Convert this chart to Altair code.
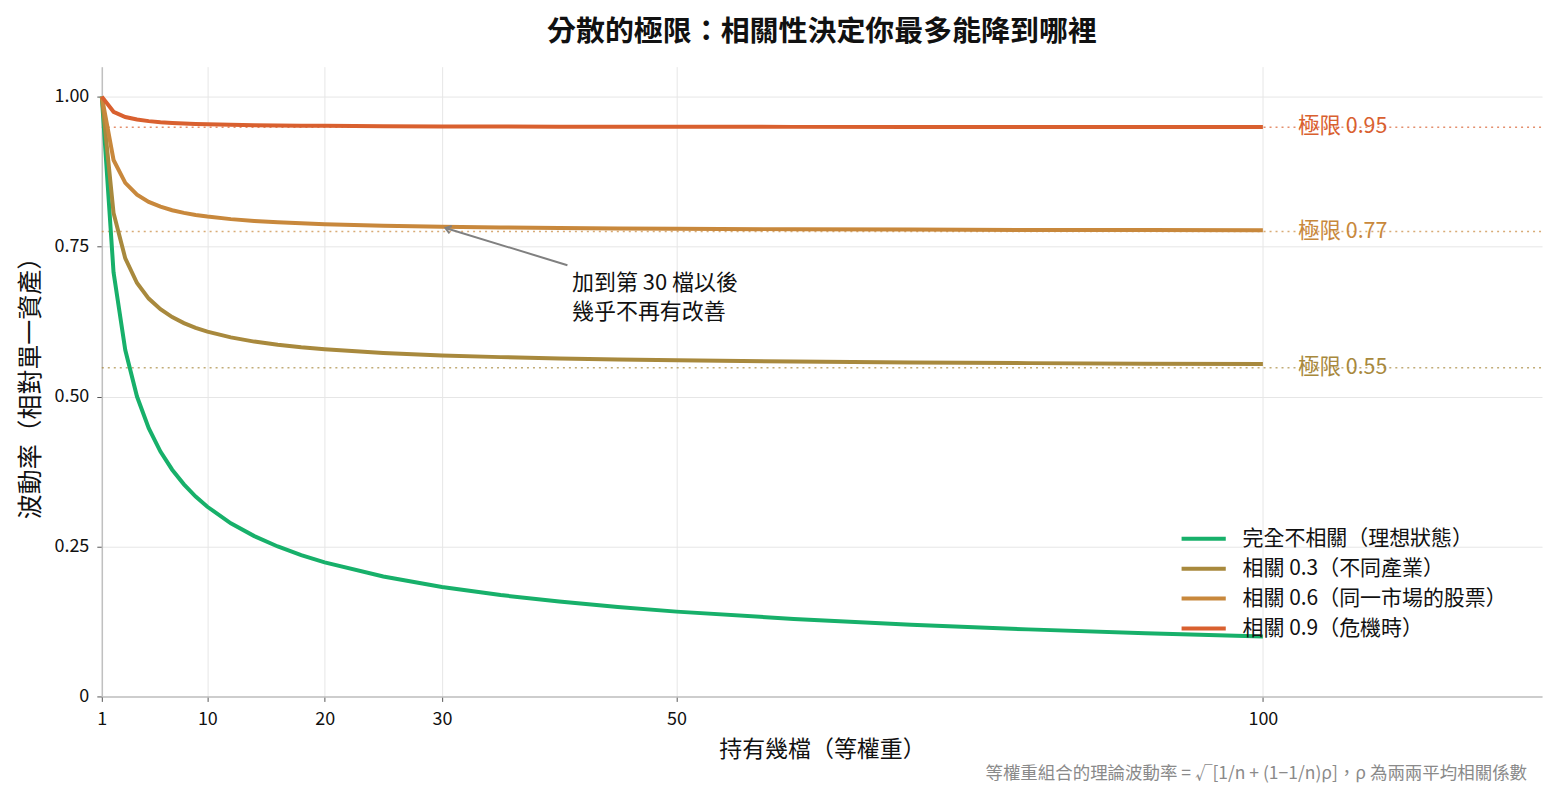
import altair as alt
import pandas as pd

FONT = "Noto Sans CJK TC"

n_vals = [1, 2, 3, 4, 5, 6, 7, 8, 9, 10, 12, 14, 16, 18, 20, 25, 30, 35, 40, 45, 50, 60, 70, 80, 90, 100]
rho0 = [1.0, 0.7071, 0.5774, 0.5, 0.4472, 0.4082, 0.3780, 0.3536, 0.3333, 0.3162, 0.2887, 0.2673, 0.25,
        0.2357, 0.2236, 0.2, 0.1826, 0.1690, 0.1581, 0.1491, 0.1414, 0.1291, 0.1195, 0.1118, 0.1054, 0.1]
rho3 = [1.0, 0.8062, 0.7303, 0.6892, 0.6633, 0.6455, 0.6325, 0.6225, 0.6146, 0.6083, 0.5986, 0.5916, 0.5863,
        0.5821, 0.5788, 0.5727, 0.5686, 0.5657, 0.5635, 0.5617, 0.5604, 0.5583, 0.5568, 0.5557, 0.5548, 0.5541]
rho6 = [1.0, 0.8944, 0.8563, 0.8367, 0.8246, 0.8165, 0.8106, 0.8062, 0.8028, 0.8, 0.7958, 0.7928, 0.7906,
        0.7888, 0.7874, 0.7849, 0.7832, 0.7819, 0.7810, 0.7803, 0.7797, 0.7789, 0.7783, 0.7778, 0.7775, 0.7772]
rho9 = [1.0, 0.9747, 0.9661, 0.9618, 0.9592, 0.9574, 0.9562, 0.9552, 0.9545, 0.9539, 0.9531, 0.9524, 0.9520,
        0.9516, 0.9513, 0.9508, 0.9504, 0.9502, 0.9500, 0.9499, 0.9497, 0.9496, 0.9494, 0.9493, 0.9493, 0.9492]

series_names = ["完全不相關（理想狀態）", "相關 0.3（不同產業）", "相關 0.6（同一市場的股票）", "相關 0.9（危機時）"]
series_colors = ["#17b06a", "#a8893d", "#c8883c", "#d9602f"]

limit_vals = [0.548, 0.775, 0.949]
limit_labels = ["極限 0.55", "極限 0.77", "極限 0.95"]
limit_colors = ["#a8893d", "#c8883c", "#d9602f"]

X_MAX = 123.8

rows = []
for name, vals in zip(series_names, [rho0, rho3, rho6, rho9]):
    for n, v in zip(n_vals, vals):
        rows.append({"n": n, "v": v, "series": name})
df = pd.DataFrame(rows)

lim_df = pd.DataFrame({"y": limit_vals, "label": limit_labels, "col": limit_colors,
                       "x0": [1] * 3, "x1": [X_MAX] * 3, "xt": [103] * 3})

xs = alt.Scale(domain=[1, X_MAX], nice=False, zero=False)
ys = alt.Scale(domain=[0, 1.05], nice=False)

lines = alt.Chart(df).mark_line(strokeWidth=4).encode(
    x=alt.X("n:Q", scale=xs,
            axis=alt.Axis(values=[1, 10, 20, 30, 50, 100], title="持有幾檔（等權重）", format="d",
                          labelFlush=False)),
    y=alt.Y("v:Q", scale=ys,
            axis=alt.Axis(values=[0, 0.25, 0.5, 0.75, 1.0], title="波動率（相對單一資產）",
                          labelExpr="datum.value == 0 ? '0' : format(datum.value, '.2f')")),
    color=alt.Color("series:N", scale=alt.Scale(domain=series_names, range=series_colors),
                    sort=series_names, legend=alt.Legend(title=None)),
)

lim_rules = alt.Chart(lim_df).mark_rule(strokeDash=[2, 4], strokeWidth=1.5, opacity=0.7).encode(
    x="x0:Q", x2="x1:Q", y="y:Q", color=alt.Color("col:N", scale=None)
)
lim_text = alt.Chart(lim_df).mark_text(align="left", baseline="middle", fontSize=21.5, font=FONT).encode(
    x="xt:Q", y="y:Q", text="label:N", color=alt.Color("col:N", scale=None)
)

arrow_df = pd.DataFrame({"x": [40.7], "y": [0.719], "x2": [30.3], "y2": [0.781]})
arrow_line = alt.Chart(arrow_df).mark_rule(color="#808080", strokeWidth=2).encode(
    x="x:Q", y="y:Q", x2="x2:Q", y2="y2:Q"
)
arrow_head = alt.Chart(arrow_df).mark_point(
    shape="M-1,-0.7L0,0L-1,0.7", filled=False, stroke="#808080", strokeWidth=2,
    size=120, angle=197.6, opacity=1
).encode(x="x2:Q", y="y2:Q")

ann_df = pd.DataFrame({"x": [41.1], "y": [0.706], "t": [["加到第 30 檔以後", "幾乎不再有改善"]]})
ann = alt.Chart(ann_df).mark_text(align="left", baseline="top", fontSize=22, font=FONT,
                                  color="#111111", lineHeight=29).encode(
    x="x:Q", y="y:Q", text="t"
)

foot_df = pd.DataFrame({"t": ["等權重組合的理論波動率 = √[1/n + (1−1/n)ρ]，ρ 為兩兩平均相關係數"]})
foot = alt.Chart(foot_df).mark_text(align="right", baseline="middle", fontSize=17.5, font=FONT,
                                    color="#8a8a8a").encode(
    x=alt.value(1428), y=alt.value(709), text="t:N"
)

chart = alt.layer(lim_rules, lines, lim_text, arrow_line, arrow_head, ann, foot).properties(
    width=1443, height=631,
    title=alt.TitleParams("分散的極限：相關性決定你最多能降到哪裡", fontSize=29, fontWeight="bold",
                          font=FONT, color="#111111", offset=20, anchor="middle"),
    autosize=alt.AutoSizeParams(type="none"),
    padding={"left": 94, "top": 58, "right": 10, "bottom": 100},
).configure_view(stroke=None).configure_axis(
    labelFont=FONT, titleFont=FONT, labelFontSize=18, titleFontSize=23, labelColor="#111111",
    titleColor="#111111", titleFontWeight="normal", gridColor="#e6e6e6", gridWidth=1,
    domainColor="#c0c0c0", domainWidth=1.5, tickColor="#555555", tickSize=5,
).configure_axisY(
    labelPadding=8, titlePadding=10, titleFontSize=25
).configure_axisX(
    labelPadding=9, titlePadding=10
).configure_legend(
    orient="none", legendX=1086, legendY=455, symbolType="M-1.4,0H1.4", symbolStrokeWidth=4,
    symbolSize=1000, symbolOpacity=1, labelFontSize=21, labelFont=FONT, labelColor="#111111",
    labelLimit=400, rowPadding=2, symbolOffset=0, labelOffset=21
)

chart.save("out.html", embed_options={"renderer": "svg", "actions": False})
